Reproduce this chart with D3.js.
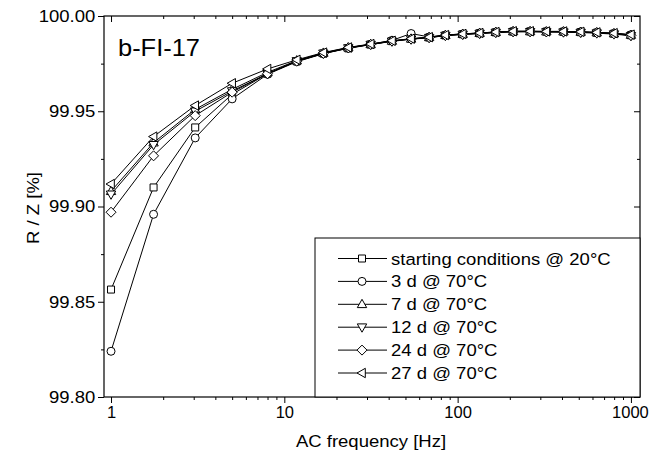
<!DOCTYPE html>
<html>
<head>
<meta charset="utf-8">
<script src="https://cdn.jsdelivr.net/npm/d3@7"></script>
<style>
  body { margin: 0; background: #fff; }
  svg text { font-family: "Liberation Sans", Arial, sans-serif; fill: #000; }
</style>
</head>
<body>
<svg id="chart" width="650" height="459"></svg>
<script>
'use strict';

// frequencies [Hz]
var freq = [1, 1.76, 3.06, 5.0, 8.0, 11.8, 16.8, 23.4, 31.5, 41.8, 53.9, 68.5,
  85, 107, 134, 166, 209, 262, 325, 408, 513, 635, 798, 1000];

var startVals = [99.8564, 99.9100, 99.9415, 99.9589, 99.9697, 99.9762, 99.9803, 99.9830, 99.9850, 99.9868, 99.9880, 99.9887,
  99.9898, 99.9904, 99.9909, 99.9914, 99.9918, 99.9919, 99.9918, 99.9917, 99.9915, 99.9912, 99.9907, 99.9899];
var d3Vals = [99.8240, 99.8959, 99.9360, 99.9565, 99.9694, 99.9760, 99.9802, 99.9832, 99.9852, 99.9872, 99.9908, 99.9890,
  99.9900, 99.9906, 99.9911, 99.9916, 99.9920, 99.9920, 99.9919, 99.9919, 99.9917, 99.9914, 99.9909, 99.9902];
var d7Vals = [99.9080, 99.9335, 99.9510, 99.9615, 99.9704, 99.9766, 99.9806, 99.9834, 99.9851, 99.9869, 99.9880, 99.9888,
  99.9899, 99.9905, 99.9910, 99.9915, 99.9919, 99.9919, 99.9918, 99.9918, 99.9916, 99.9913, 99.9908, 99.9900];
var d12Vals = [99.9064, 99.9324, 99.9500, 99.9606, 99.9697, 99.9764, 99.9804, 99.9832, 99.9850, 99.9867, 99.9878, 99.9886,
  99.9897, 99.9903, 99.9908, 99.9913, 99.9917, 99.9917, 99.9916, 99.9915, 99.9913, 99.9910, 99.9905, 99.9896];
var d24Vals = [99.8970, 99.9266, 99.9477, 99.9600, 99.9697, 99.9763, 99.9804, 99.9833, 99.9851, 99.9869, 99.9879, 99.9887,
  99.9898, 99.9904, 99.9909, 99.9914, 99.9918, 99.9918, 99.9917, 99.9917, 99.9915, 99.9912, 99.9907, 99.9898];
var d27Vals = [99.9118, 99.9367, 99.9530, 99.9647, 99.9722, 99.9770, 99.9808, 99.9835, 99.9853, 99.9870, 99.9881, 99.9889,
  99.9900, 99.9906, 99.9911, 99.9916, 99.9920, 99.9920, 99.9919, 99.9919, 99.9917, 99.9914, 99.9910, 99.9902];

var seriesNames = ['starting conditions @ 20°C', '3 d @ 70°C', '7 d @ 70°C', '12 d @ 70°C', '24 d @ 70°C', '27 d @ 70°C'];
var seriesMarks = ['square', 'circle', 'up', 'down', 'diamond', 'left'];
var seriesVals = [startVals, d3Vals, d7Vals, d12Vals, d24Vals, d27Vals];

var xTicks = [1, 10, 100, 1000];
var yTicks = [99.80, 99.85, 99.90, 99.95, 100.00];

var plotL = 104, plotR = 640, plotT = 16, plotB = 397;
var fs = 17, sx = 1.09; // labels are a bit wide in the reference

var svg = d3.select('#chart');

var x = d3.scaleLog().domain([0.911, 1128]).range([plotL, plotR]);
var y = d3.scaleLinear().domain([99.80, 100.00]).range([plotB, plotT]);

function markPath(type) {
	switch (type) {
		case 'square': return 'M-3.5,-3.5H3.5V3.5H-3.5Z';
		case 'circle': return 'M4,0A4,4 0 1,1 -4,0A4,4 0 1,1 4,0Z';
		case 'up': return 'M0,-5L4.7,3.3L-4.7,3.3Z';
		case 'down': return 'M0,5L4.7,-3.3L-4.7,-3.3Z';
		case 'diamond': return 'M0,-5L5,0L0,5L-5,0Z';
		case 'left': return 'M-5,0L3.3,-4.7L3.3,4.7Z';
	}
}

// minor ticks
var xMinor = [];
[1, 10, 100].forEach(function(dec) {
	for (var k = 2; k <= 9; k++) xMinor.push(dec * k);
});
var yMinor = [99.825, 99.875, 99.925, 99.975];

// bottom axis (outward), top (inward)
var gx = svg.append('g').attr('transform', 'translate(0,' + plotB + ')')
	.call(d3.axisBottom(x).tickValues(xTicks).tickSize(6).tickFormat(d3.format('d')));
gx.select('.domain').remove();
gx.selectAll('text').attr('font-size', 16.5).attr('y', 9).attr('dy', '0.71em');
// keep "1000" inside the page
gx.selectAll('text').filter(function(d) { return d === 1000; }).attr('x', -1);
svg.append('g').attr('transform', 'translate(0,' + plotB + ')')
	.call(d3.axisBottom(x).tickValues(xMinor).tickSize(3).tickFormat(''))
	.select('.domain').remove();
svg.append('g').attr('transform', 'translate(0,' + plotT + ')')
	.call(d3.axisBottom(x).tickValues(xTicks).tickSize(6).tickFormat(''))
	.select('.domain').remove();
svg.append('g').attr('transform', 'translate(0,' + plotT + ')')
	.call(d3.axisBottom(x).tickValues(xMinor).tickSize(3).tickFormat(''))
	.select('.domain').remove();

// left axis (outward), right (inward)
var gy = svg.append('g').attr('transform', 'translate(' + plotL + ',0)')
	.call(d3.axisLeft(y).tickValues(yTicks).tickSize(6).tickFormat(d3.format('.2f')));
gy.select('.domain').remove();
gy.selectAll('text').attr('font-size', fs).attr('x', -8)
	.attr('transform', 'scale(' + sx + ',1)');
svg.append('g').attr('transform', 'translate(' + plotL + ',0)')
	.call(d3.axisLeft(y).tickValues(yMinor).tickSize(3).tickFormat(''))
	.select('.domain').remove();
svg.append('g').attr('transform', 'translate(' + plotR + ',0)')
	.call(d3.axisLeft(y).tickValues(yTicks).tickSize(6).tickFormat(''))
	.select('.domain').remove();
svg.append('g').attr('transform', 'translate(' + plotR + ',0)')
	.call(d3.axisLeft(y).tickValues(yMinor).tickSize(3).tickFormat(''))
	.select('.domain').remove();

svg.selectAll('.tick line').attr('stroke', '#000').attr('stroke-width', 1);

// frame
svg.append('rect')
	.attr('x', plotL).attr('y', plotT)
	.attr('width', plotR - plotL).attr('height', plotB - plotT)
	.attr('fill', 'none').attr('stroke', '#000').attr('stroke-width', 1.2);

// series
var line = d3.line()
	.x(function(d, i) { return x(freq[i]); })
	.y(function(d) { return y(d); });

seriesVals.forEach(function(vals, s) {
	var g = svg.append('g');
	g.append('path').attr('d', line(vals))
		.attr('fill', 'none').attr('stroke', '#000').attr('stroke-width', 1);
	g.selectAll('path.mk').data(vals).enter().append('path')
		.attr('class', 'mk')
		.attr('d', markPath(seriesMarks[s]))
		.attr('transform', function(d, i) { return 'translate(' + x(freq[i]) + ',' + y(d) + ')'; })
		.attr('fill', '#fff').attr('stroke', '#000').attr('stroke-width', 1);
});

// legend
var leg = svg.append('g');
leg.append('rect').attr('x', 315).attr('y', 238)
	.attr('width', plotR - 315).attr('height', plotB - 238)
	.attr('fill', '#fff').attr('stroke', '#000').attr('stroke-width', 1);
seriesNames.forEach(function(name, s) {
	var cy = 258.5 + s * 22.9;
	leg.append('line').attr('x1', 338).attr('x2', 387).attr('y1', cy).attr('y2', cy)
		.attr('stroke', '#000').attr('stroke-width', 1);
	leg.append('path').attr('d', markPath(seriesMarks[s]))
		.attr('transform', 'translate(362,' + cy + ')')
		.attr('fill', '#fff').attr('stroke', '#000').attr('stroke-width', 1);
	leg.append('text').attr('transform', 'translate(391,' + (cy + 6) + ') scale(' + sx + ',1)')
		.attr('font-size', fs).text(name);
});

// title and axis labels
svg.append('text').attr('transform', 'translate(118,56) scale(1.06,1)')
	.attr('font-size', 24).text('b-FI-17');
svg.append('text').attr('transform', 'translate(371,447) scale(' + sx + ',1)')
	.attr('text-anchor', 'middle').attr('font-size', fs).text('AC frequency [Hz]');
svg.append('text').attr('transform', 'translate(39,208) rotate(-90) scale(' + sx + ',1)')
	.attr('text-anchor', 'middle').attr('font-size', fs).text('R / Z [%]');
</script>
</body>
</html>
